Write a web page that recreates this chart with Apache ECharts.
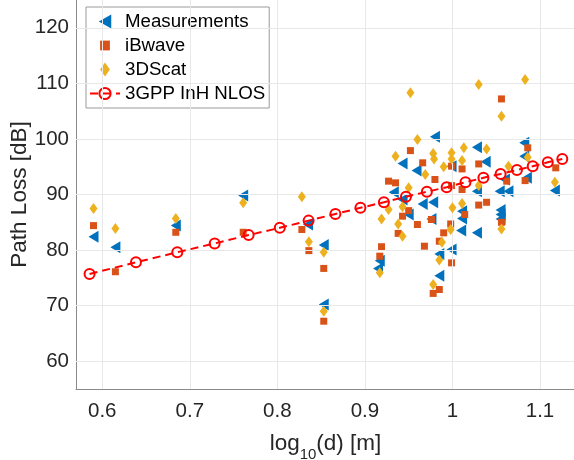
<!DOCTYPE html>
<html>
<head>
<meta charset="utf-8">
<script src="https://cdn.jsdelivr.net/npm/echarts@6/dist/echarts.min.js"></script>
<style>
html,body{margin:0;padding:0;background:#fff;}
#chart{width:574px;height:460px;}
</style>
</head>
<body>
<div id="chart"></div>
<script>
// ---- data ----
const xTicks = [0.6, 0.7, 0.8, 0.9, 1.0, 1.1];
const yTicks = [60, 70, 80, 90, 100, 110, 120];

const measurements = [
  [0.590,82.4],[0.615,80.5],[0.684,84.4],[0.761,89.8],[0.835,84.6],[0.853,80.9],[0.853,70.2],
  [0.933,90.4],[0.943,89.1],[0.950,86.4],[0.917,78.1],[0.915,76.7],[0.943,95.6],[0.959,94.3],
  [0.980,100.4],[0.966,88.3],[0.978,88.6],[0.976,85.6],[0.985,79.3],[0.985,75.4],
  [0.999,95.1],[1.011,87.0],[1.011,85.7],[1.010,83.5],[1.028,83.1],[0.999,80.1],[1.028,98.5],
  [1.038,95.9],[1.028,90.6],[1.055,87.2],[1.055,86.4],[1.055,85.6],[1.060,92.7],[1.054,90.6],
  [1.064,90.6],[1.082,99.3],[1.082,96.9],[1.085,93.0],[1.117,90.7]
];

const ibwave = [
  [0.590,84.4],[0.615,76.1],[0.684,83.2],[0.761,83.2],[0.828,83.7],[0.836,79.9],[0.853,76.7],[0.853,67.2],
  [0.919,80.6],[0.917,78.9],[0.943,86.1],[0.938,83.0],[0.950,87.1],[0.960,84.6],[0.976,85.5],[0.968,80.7],
  [0.978,72.2],[0.985,72.9],[0.985,81.6],[1.014,86.4],[0.998,84.7],[0.990,83.1],[0.999,77.7],[1.030,88.1],
  [1.039,88.6],[1.056,85.0],[1.056,107.2],[1.086,98.4],[1.030,95.5],[0.999,95.1],[1.011,94.6],[0.980,92.7],
  [0.999,91.6],[1.062,92.4],[1.083,92.5],[1.118,94.8],[1.011,90.9],[0.952,97.9],[0.966,95.7],[0.927,92.4],
  [0.935,92.1]
];

const scat3d = [
  [0.590,87.5],[0.615,83.9],[0.684,85.7],[0.761,88.5],[0.828,89.6],[0.836,81.5],[0.853,79.6],[0.853,69.0],
  [0.927,87.3],[0.919,85.6],[0.917,75.9],[0.943,87.8],[0.938,84.7],[0.943,82.5],[0.978,73.8],[0.985,78.2],
  [1.000,87.6],[1.011,88.4],[0.998,83.7],[0.988,81.4],[1.056,83.8],[1.030,109.8],[1.083,110.7],[1.056,104.1],
  [1.086,96.7],[1.013,98.4],[1.039,98.2],[0.978,97.4],[0.979,96.4],[0.999,97.5],[0.999,96.4],[1.011,96.1],
  [0.990,95.0],[1.030,91.6],[1.064,95.1],[1.117,92.2],[0.952,108.3],[0.960,99.9],[0.935,96.9],[0.969,93.6],
  [0.950,91.2]
];

const gppX = [0.5855,0.6385,0.6857,0.7284,0.7672,0.8028,0.8357,0.8663,0.8949,0.9217,
              0.9469,0.9708,0.9934,1.0149,1.0354,1.0550,1.0737,1.0917,1.1089,1.1255];
const gppY = [75.7,77.8,79.6,81.2,82.7,84.0,85.3,86.5,87.6,88.6,
              89.6,90.5,91.3,92.2,93.0,93.7,94.4,95.1,95.8,96.4];

// ---- chart ----
const FONT = '"Liberation Sans", Arial, Helvetica, sans-serif';
const chart = echarts.init(document.getElementById('chart'), null, {renderer: 'canvas'});

const gridLines = [].concat(
  xTicks.map(v => ({xAxis: v})),
  yTicks.map(v => ({yAxis: v}))
);

// legend icon glyphs
const iconTri = 'path://M0,4.5L8,0L8,9Z';
const iconSq = 'path://M0,0M10,10M1.5,1.5L8.5,1.5L8.5,8.5L1.5,8.5Z';
const iconDia = 'path://M3.5,0L7,5L3.5,10L0,5Z';

const option = {
  animation: false,
  backgroundColor: '#ffffff',
  textStyle: {fontFamily: FONT},
  grid: {left: 76, right: -1, top: 0, bottom: 71, containLabel: false, outerBoundsMode: 'none'},
  legend: {
    orient: 'vertical',
    left: 86, top: 7,
    padding: [5, 4, 5, 3],
    itemGap: 5,
    itemWidth: 30, itemHeight: 14,
    symbolRotate: 0,
    backgroundColor: '#ffffff',
    borderColor: '#9a9a9a', borderWidth: 1, borderRadius: 0,
    textStyle: {fontSize: 18.7, color: '#000000', fontFamily: FONT},
    data: [
      {name: 'Measurements', icon: iconTri, itemStyle: {color: '#0072BD'}},
      {name: 'iBwave', icon: iconSq, itemStyle: {color: '#D95319'}},
      {name: '3DScat', icon: iconDia, itemStyle: {color: '#EDB120'}},
      {name: '3GPP InH NLOS'}
    ]
  },
  xAxis: {
    type: 'value', min: 0.57, max: 1.14,
    name: 'log{s|10}(d) [m]', nameLocation: 'middle', nameGap: 37,
    nameTextStyle: {fontSize: 22.5, color: '#262626', fontFamily: FONT,
      rich: {s: {fontSize: 15, color: '#262626', fontFamily: FONT, verticalAlign: 'bottom', lineHeight: 36}}},
    axisLine: {show: true, onZero: false, lineStyle: {color: '#8a8a8a', width: 1}},
    axisTick: {show: true, inside: true, length: 5, customValues: xTicks, lineStyle: {color: '#8a8a8a'}},
    axisLabel: {customValues: xTicks, fontSize: 20.5, color: '#262626', margin: 12, fontFamily: FONT,
      formatter: v => String(Math.round(v * 10) / 10)},
    splitLine: {show: false}
  },
  yAxis: {
    type: 'value', min: 55, max: 125,
    name: 'Path Loss [dB]', nameLocation: 'middle', nameGap: 45, nameRotate: 90,
    nameMoveOverlap: false,
    nameTextStyle: {fontSize: 22.5, color: '#262626', fontFamily: FONT},
    axisLine: {show: true, onZero: false, lineStyle: {color: '#8a8a8a', width: 1}},
    axisTick: {show: true, inside: true, length: 5, customValues: yTicks, lineStyle: {color: '#8a8a8a'}},
    axisLabel: {customValues: yTicks, fontSize: 20.5, color: '#262626', margin: 7, fontFamily: FONT},
    splitLine: {show: false}
  },
  series: [
    {
      name: '__grid', type: 'line', data: [], z: 0, silent: true,
      markLine: {
        silent: true, symbol: ['none', 'none'], animation: false,
        label: {show: false},
        emphasis: {disabled: true},
        lineStyle: {color: '#e8e8e8', width: 1, type: 'solid'},
        data: gridLines
      }
    },
    {
      name: 'Measurements', type: 'scatter', data: measurements, z: 3,
      symbol: 'triangle', symbolRotate: 90, symbolSize: [12, 10],
      itemStyle: {color: '#0072BD', opacity: 1}
    },
    {
      name: 'iBwave', type: 'scatter', data: ibwave, z: 4,
      symbol: 'rect', symbolSize: 7,
      itemStyle: {color: '#D95319', opacity: 1}
    },
    {
      name: '3DScat', type: 'scatter', data: scat3d, z: 5,
      symbol: 'diamond', symbolSize: [8, 11],
      itemStyle: {color: '#EDB120', opacity: 1}
    },
    {
      name: '3GPP InH NLOS', type: 'line', z: 6,
      data: gppX.map((x, i) => [x, gppY[i]]),
      symbol: 'circle', symbolSize: 10, showSymbol: true,
      lineStyle: {color: '#FF0000', width: 2, type: [8, 5]},
      itemStyle: {color: 'rgba(255,255,255,0)', borderColor: '#FF0000', borderWidth: 2}
    }
  ]
};
chart.setOption(option);
</script>
</body>
</html>
